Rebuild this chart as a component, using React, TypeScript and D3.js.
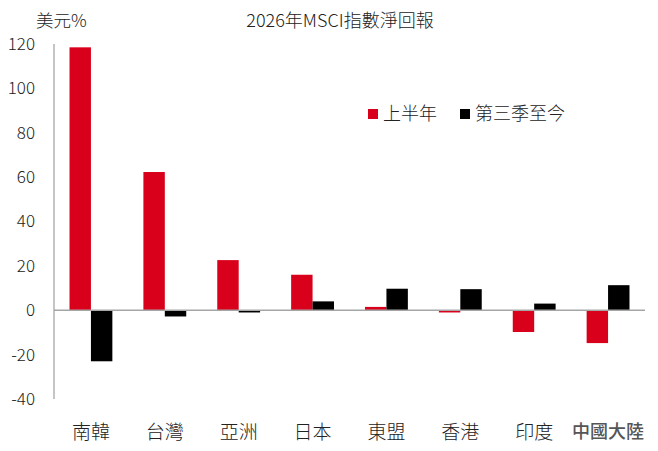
import { useEffect, useRef } from "react";
import * as d3 from "d3";

// categories and series
const categories = ["南韓", "台灣", "亞洲", "日本", "東盟", "香港", "印度", "中國大陸"];
const firstHalf = [118.5, 62.3, 22.6, 16.0, 1.5, -1.0, -9.8, -14.8];
const q3ToDate = [-23.0, -2.8, -1.0, 4.0, 9.7, 9.5, 3.0, 11.3];
const seriesNames = ["上半年", "第三季至今"];
const yTicks = [120, 100, 80, 60, 40, 20, 0, -20, -40];

const colors = ["#d9001b", "#000000"];
const font = "'Noto Sans CJK TC', 'Noto Sans', sans-serif";

export default function App() {
  const svgRef = useRef<SVGSVGElement | null>(null);

  useEffect(() => {
    if (!svgRef.current) return;
    const width = 658;
    const height = 451;

    const svg = d3.select(svgRef.current);
    svg.selectAll("*").remove();

    const x = d3
      .scaleBand<string>()
      .domain(categories)
      .range([54, 645])
      .paddingInner(0.42)
      .paddingOuter(0.21);

    const y = d3.scaleLinear().domain([-40, 120]).range([399, 44]);

    const inner = d3
      .scaleBand<number>()
      .domain([0, 1])
      .range([0, x.bandwidth()]);

    // y axis line
    svg
      .append("line")
      .attr("x1", 54)
      .attr("x2", 54)
      .attr("y1", y(120))
      .attr("y2", y(-40))
      .attr("stroke", "#a6a6a6")
      .attr("stroke-width", 1.3);

    // y tick labels
    svg
      .append("g")
      .selectAll("text")
      .data(yTicks)
      .join("text")
      .attr("x", 35)
      .attr("y", (d) => y(d))
      .attr("dy", "0.35em")
      .attr("text-anchor", "end")
      .attr("font-family", font)
      .attr("font-size", 17)
      .attr("font-weight", 300)
      .attr("fill", "#222")
      .text((d) => d);

    const data = [firstHalf, q3ToDate];

    data.forEach((vals, s) => {
      svg
        .append("g")
        .selectAll("rect")
        .data(vals)
        .join("rect")
        .attr("x", (_, i) => (x(categories[i]) ?? 0) + (inner(s) ?? 0))
        .attr("width", inner.bandwidth())
        .attr("y", (d) => y(Math.max(0, d)))
        .attr("height", (d) => Math.abs(y(d) - y(0)))
        .attr("fill", colors[s]);
    });

    // zero line
    svg
      .append("line")
      .attr("x1", 54)
      .attr("x2", 645)
      .attr("y1", y(0))
      .attr("y2", y(0))
      .attr("stroke", "#a6a6a6")
      .attr("stroke-width", 1.3);

    // category labels
    svg
      .append("g")
      .selectAll("text")
      .data(categories)
      .join("text")
      .attr("x", (d) => (x(d) ?? 0) + x.bandwidth() / 2)
      .attr("y", 432)
      .attr("dy", "0.35em")
      .attr("text-anchor", "middle")
      .attr("font-family", font)
      .attr("font-size", (d) => (d.length > 2 ? 18 : 19))
      .attr("font-weight", (d) => (d.length > 2 ? 500 : 300))
      .attr("fill", (d) => (d.length > 2 ? "#555" : "#222"))
      .text((d) => d);

    // title and unit
    svg
      .append("text")
      .attr("x", 340)
      .attr("y", 21)
      .attr("text-anchor", "middle")
      .attr("dy", "0.35em")
      .attr("font-family", font)
      .attr("font-size", 18)
      .attr("font-weight", 300)
      .attr("fill", "#222")
      .text("2026年MSCI指數淨回報");

    svg
      .append("text")
      .attr("x", 36)
      .attr("y", 21)
      .attr("dy", "0.35em")
      .attr("font-family", font)
      .attr("font-size", 17.5)
      .attr("font-weight", 300)
      .attr("fill", "#222")
      .text("美元%");

    // legend
    const legendX = [368, 460];
    seriesNames.forEach((name, s) => {
      const g = svg.append("g").attr("transform", `translate(${legendX[s]},114)`);
      g.append("rect")
        .attr("x", 0)
        .attr("y", -5)
        .attr("width", 10)
        .attr("height", 10)
        .attr("fill", colors[s]);
      g.append("text")
        .attr("x", 15)
        .attr("y", 0)
        .attr("dy", "0.35em")
        .attr("font-family", font)
        .attr("font-size", 18)
        .attr("font-weight", 300)
        .attr("fill", "#222")
        .text(name);
    });

    svg.attr("width", width).attr("height", height);
  }, []);

  return (
    <div style={{ position: "absolute", left: 0, top: 0 }}>
      <svg ref={svgRef} width={658} height={451} style={{ display: "block", background: "#fff" }}></svg>
    </div>
  );
}
